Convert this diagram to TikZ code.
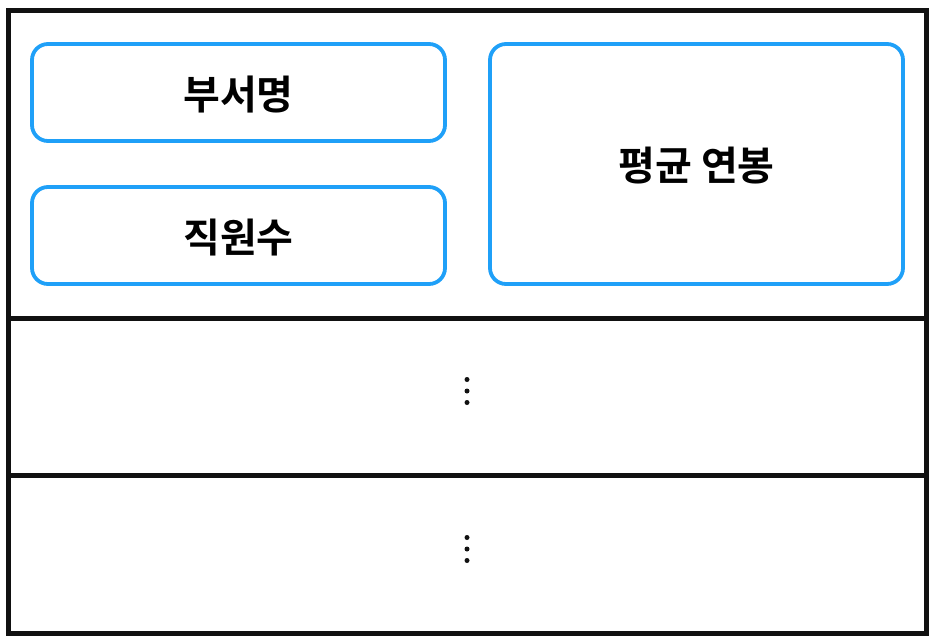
\documentclass[tikz,border=0pt]{standalone}
\usepackage{fontspec}
\newfontfamily\kofont{Noto Sans CJK KR}[BoldFont={Noto Sans CJK KR Bold}]
\usetikzlibrary{positioning}
\definecolor{FB}{HTML}{1FA0F8}
\definecolor{FK}{HTML}{111111}

\begin{document}
\begin{tikzpicture}[x=1pt,y=-1pt,
    frame/.style={draw=FK, line width=5pt},
    field/.style={draw=FB, line width=3.8pt, rounded corners=16pt,
      font=\kofont\bfseries\fontsize{40}{48}\selectfont},
  ]
  \useasboundingbox (0,0) rectangle (935,643);
  % outer table and row lines
  \draw[frame] (8,10) rectangle (926,633);
  \coordinate (rowa) at (8,318);
  \coordinate (rowb) at (8,475);
  \draw[frame] (rowa) -- ++(918,0);
  \draw[frame] (rowb) -- ++(918,0);
  % first row fields
  \draw[field] (32,44) rectangle (445,141)
    node[midway, text=black, yshift=-2pt] (dept) {부서명};
  \draw[field] (32,187) rectangle (445,284)
    node[midway, text=black, yshift=-2pt] (staff) {직원수};
  \draw[field] (490,44) rectangle (903,284)
    node[midway, text=black, yshift=-2pt] (salary) {평균 연봉};
  % continuation dots
  \foreach \y in {391,549}{
    \foreach \d in {-11.5,0,11.5}
      \fill[FK] (467,\y+\d) circle (2.5);
  }
\end{tikzpicture}
\end{document}
